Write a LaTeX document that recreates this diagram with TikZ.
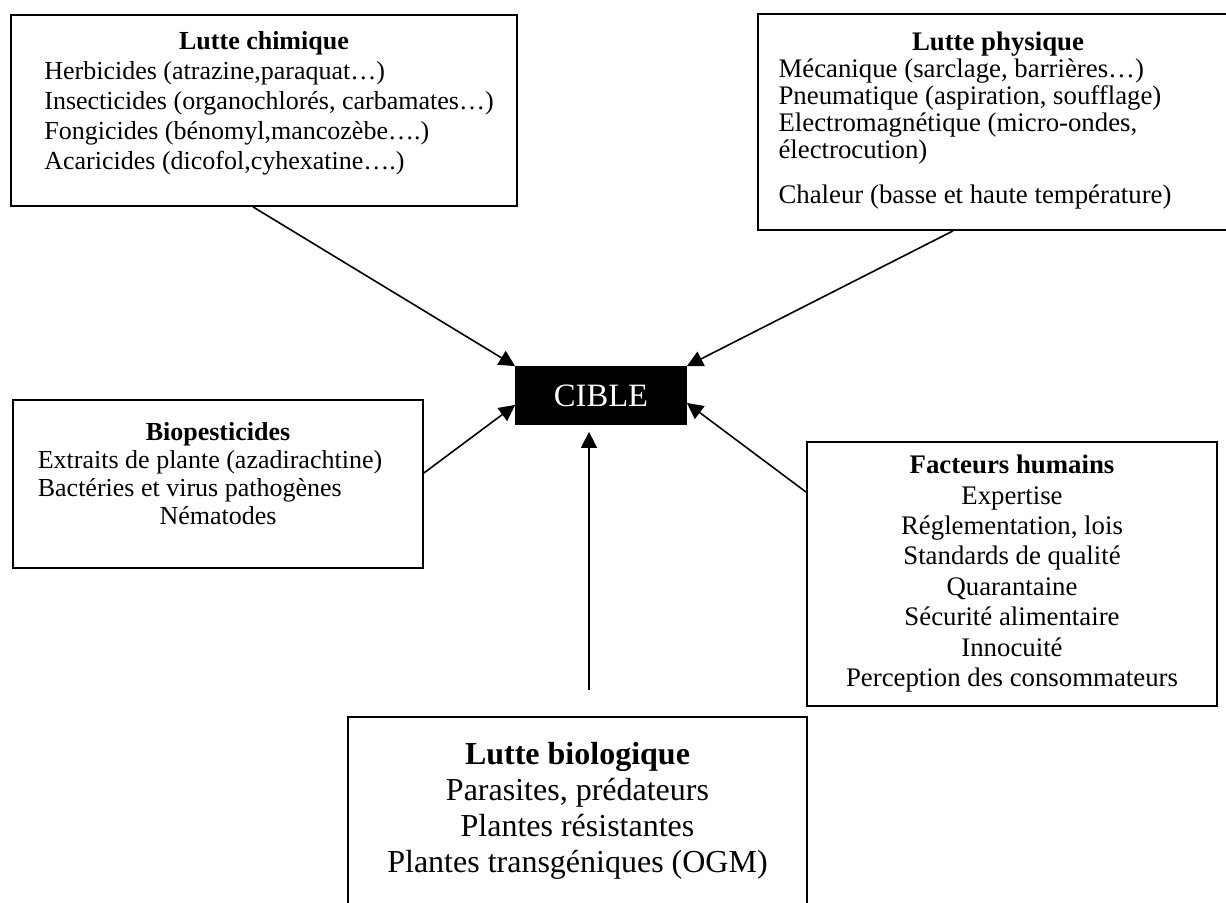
\documentclass[tikz,border=0pt]{standalone}
\usepackage{fontspec}
\setmainfont{Liberation Serif}
\usetikzlibrary{arrows.meta, positioning, calc}

\begin{document}
\begin{tikzpicture}[
    x=0.5pt, y=-0.5pt,
    >={Triangle[length=8pt, width=8pt]},
    font=\fontsize{13}{15}\selectfont,
    % Boxes
    box/.style={draw, line width=0.9pt, rectangle, inner sep=0pt},
    chimbox/.style={box, minimum width=253pt, minimum height=95.5pt},
    physbox/.style={box, minimum width=240pt, minimum height=108pt,
                    font=\fontsize{13.4}{13.5}\selectfont},
    biobox/.style ={box, minimum width=205pt, minimum height=84pt,
                    font=\fontsize{13}{14}\selectfont},
    factbox/.style={box, minimum width=205pt, minimum height=132pt,
                    font=\fontsize{13.4}{15.2}\selectfont},
    biolbox/.style={box, minimum width=229.5pt, inner ysep=11pt,
                    font=\fontsize{16}{18}\selectfont},
    cible/.style  ={box, fill=black, text=white, minimum width=85pt,
                    minimum height=28.5pt, font=\fontsize{16.3}{19}\selectfont},
    % Arrows
    link/.style={line width=0.8pt, ->}
]

\useasboundingbox (0,0) rectangle (1226,903);

% Centre
\node[cible] (cible) at (601,395.5) {CIBLE};

% ---------------------------- Top row --------------------------------
\node[chimbox] (chim) at (264,110.5) {%
\begin{tabular}{@{}l@{\hspace{-5pt}}}
\multicolumn{1}{@{}c@{}}{\textbf{Lutte chimique}}\\
Herbicides (atrazine,paraquat…)\\
Insecticides (organochlorés, carbamates…)\\
Fongicides (bénomyl,mancozèbe….)\\
Acaricides (dicofol,cyhexatine….)\\[7pt]
\end{tabular}};

\node[physbox] (phys) at (998,122) {%
\begin{tabular}{@{}l@{\hspace{23pt}}}
\multicolumn{1}{@{}c@{}}{\textbf{Lutte physique}}\\
Mécanique (sarclage, barrières…)\\
Pneumatique (aspiration, soufflage)\\
Electromagnétique (micro-ondes,\\
électrocution)\\[9pt]
Chaleur (basse et haute température)
\end{tabular}};

% --------------------------- Middle row ------------------------------
\node[biobox] (bio) at (218,484) {%
\begin{tabular}{@{}l@{\hspace{8pt}}}
\multicolumn{1}{@{}c@{}}{\textbf{Biopesticides}}\\
Extraits de plante (azadirachtine)\\
Bactéries et virus pathogènes\\
\multicolumn{1}{@{}c@{}}{Nématodes}\\[7.5pt]
\end{tabular}};

\node[factbox] (fact) at (1012,574) {%
\begin{tabular}{@{}c@{}}
\textbf{Facteurs humains}\\
Expertise\\
Réglementation, lois\\
Standards de qualité\\
Quarantaine\\
Sécurité alimentaire\\
Innocuité\\
Perception des consommateurs
\end{tabular}};

% --------------------------- Bottom ----------------------------------
\node[biolbox, anchor=north] (biol) at (577.5,716) {%
\begin{tabular}{@{}c@{}}
\textbf{Lutte biologique}\\
Parasites, prédateurs\\
Plantes résistantes\\
Plantes transgéniques (OGM)\\[10pt]
\end{tabular}};

% ======================== Arrows =====================================
\draw[link] ([xshift=-5.5pt]chim.south) -- (cible.north west);
\draw[link] ([xshift=-22.5pt]phys.south) -- (cible.north east);
\draw[link] ([yshift=5.5pt]bio.east) -- ([yshift=-4.75pt]cible.west);
\draw[link] ([yshift=-25.5pt]fact.north west) -- ([yshift=-3.75pt]cible.east);
\draw[link] ([xshift=5.75pt, yshift=13pt]biol.north)
         -- ([xshift=-6pt, yshift=-3.5pt]cible.south);

\end{tikzpicture}
\end{document}
